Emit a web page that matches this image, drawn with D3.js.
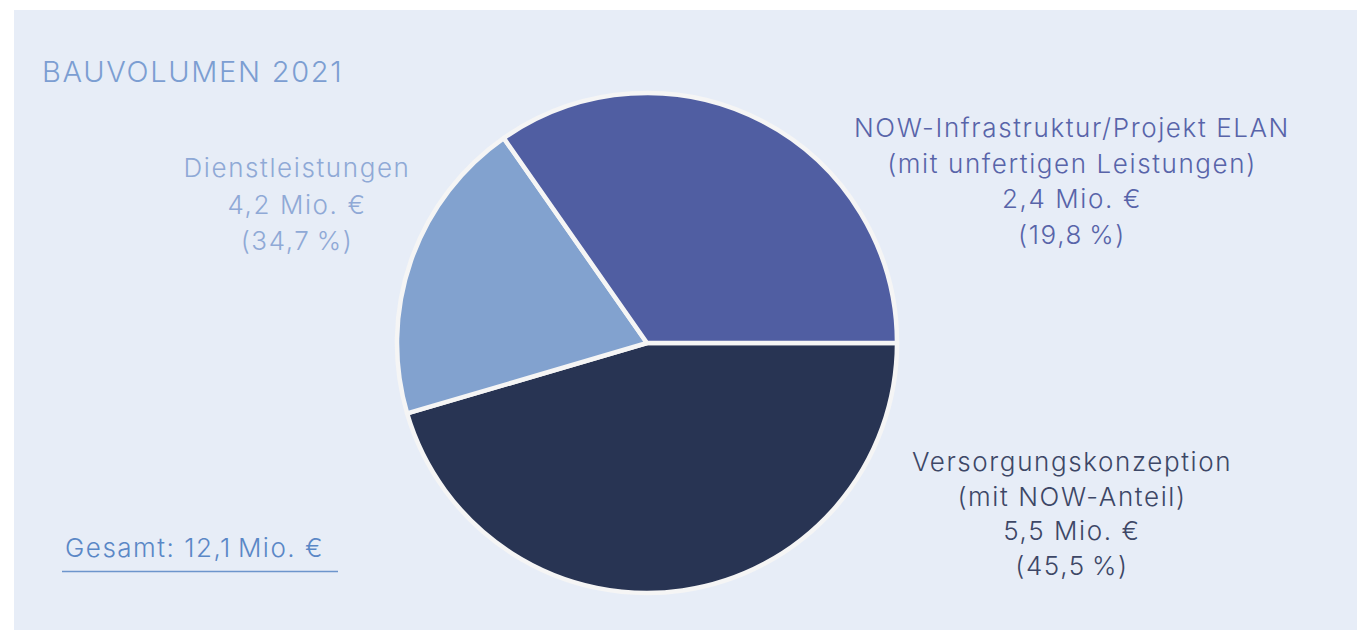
<!DOCTYPE html>
<html>
<head>
<meta charset="utf-8">
<script src="https://cdn.jsdelivr.net/npm/d3@7"></script>
<style>
  html, body { margin: 0; padding: 0; background: #ffffff; }
  svg { display: block; }
  text { font-family: Inter, "Open Sans", sans-serif; font-weight: 300; }
</style>
</head>
<body>
<svg id="chart" width="1357" height="630"></svg>
<script>
// ---- data (as drawn in the reference) ----
const sliceNames  = ["Versorgungskonzeption", "Dienstleistungen", "NOW-Infrastruktur/Projekt ELAN"];
const sliceValues = [5.5, 2.4, 4.2];           // Mio. € — slice sizes as drawn
const sliceColors = ["#283453", "#82a2cf", "#505ea2"];

const labelLines = [
  ["Versorgungskonzeption", "(mit NOW-Anteil)", "5,5 Mio. €", "(45,5\u202F%)"],
  ["Dienstleistungen", "4,2 Mio. €", "(34,7\u202F%)"],
  ["NOW-Infrastruktur/Projekt ELAN", "(mit unfertigen Leistungen)", "2,4 Mio. €", "(19,8\u202F%)"]
];
const labelColors = ["#3d4766", "#8fa9d6", "#5864a9"];
const titleText = "BAUVOLUMEN 2021";
const totalText = "Gesamt: 12,1\u202FMio. €";

// ---- layout ----
const W = 1357, H = 630;
const svg = d3.select("#chart");
svg.append("rect").attr("x", 14).attr("y", 10).attr("width", W - 14).attr("height", H - 10)
  .attr("fill", "#e7edf7");

const cx = 647, cy = 343, R = 252;

const pie = d3.pie().sort(null).value(d => d)
  .startAngle(Math.PI / 2).endAngle(Math.PI / 2 + 2 * Math.PI);
const arc = d3.arc().innerRadius(0).outerRadius(R - 2);

const g = svg.append("g").attr("transform", `translate(${cx},${cy})`);
g.selectAll("path").data(pie(sliceValues)).join("path")
  .attr("d", arc)
  .attr("fill", (d, i) => sliceColors[i])
  .attr("stroke", "#f5f5f5")
  .attr("stroke-width", 4.5)
  .attr("stroke-linejoin", "round");

// title
svg.append("text").attr("x", 42).attr("y", 82)
  .attr("font-size", 29).attr("letter-spacing", 1.7)
  .attr("fill", "#7c9ed2").text(titleText);

// labels
const labelPos = [
  { x: 1072, y: 471, lh: 34.5 },
  { x: 297, y: 177, lh: 36.5 },
  { x: 1072, y: 137, lh: 35.5 }
];
labelLines.forEach((lines, i) => {
  const t = svg.append("text")
    .attr("text-anchor", "middle")
    .attr("font-size", 26)
    .attr("letter-spacing", 1.6)
    .attr("fill", labelColors[i]);
  lines.forEach((ln, j) => {
    t.append("tspan").attr("x", labelPos[i].x).attr("y", labelPos[i].y + j * labelPos[i].lh).text(ln);
  });
});

// total
svg.append("text").attr("x", 65).attr("y", 557)
  .attr("font-size", 26).attr("letter-spacing", 1.5)
  .attr("fill", "#5a87c6").text(totalText);
svg.append("line").attr("x1", 62).attr("x2", 338).attr("y1", 571.5).attr("y2", 571.5)
  .attr("stroke", "#6d95cc").attr("stroke-width", 1.5);
</script>
</body>
</html>
